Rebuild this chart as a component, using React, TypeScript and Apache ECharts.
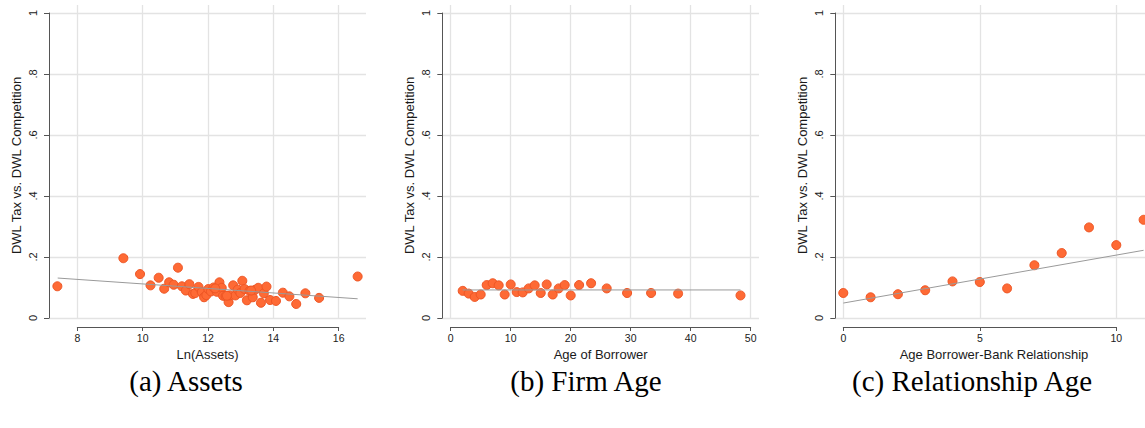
import React, { useEffect, useRef } from 'react';
import * as echarts from 'echarts';

// (a) Assets
const assetsX = [7.39, 9.41, 9.92, 10.24, 10.49, 10.66, 10.81, 10.95, 11.08, 11.20, 11.32, 11.43, 11.54, 11.61, 11.71, 11.81, 11.88, 11.95, 12.01, 12.09, 12.17, 12.27, 12.35, 12.42, 12.46, 12.54, 12.63, 12.67, 12.77, 12.84, 12.91, 12.99, 13.05, 13.12, 13.19, 13.27, 13.37, 13.45, 13.54, 13.62, 13.71, 13.79, 13.90, 14.08, 14.29, 14.49, 14.70, 14.98, 15.40, 16.58, 12.22, 12.58, 13.32];
const assetsY = [0.104, 0.196, 0.144, 0.107, 0.132, 0.096, 0.117, 0.109, 0.165, 0.104, 0.090, 0.111, 0.079, 0.082, 0.102, 0.085, 0.068, 0.075, 0.095, 0.087, 0.100, 0.086, 0.117, 0.099, 0.073, 0.072, 0.052, 0.074, 0.107, 0.074, 0.093, 0.082, 0.122, 0.095, 0.058, 0.089, 0.068, 0.093, 0.099, 0.050, 0.081, 0.103, 0.059, 0.056, 0.083, 0.071, 0.046, 0.081, 0.066, 0.136, 0.097, 0.073, 0.090];
const assetsFit = [[7.40, 0.131], [16.58, 0.063]];

// (b) Firm Age
const firmAgeX = [2, 3, 4, 5, 6, 7, 8, 9, 10, 11, 12, 13, 14, 15, 16, 17, 18, 19, 20, 21.4, 23.4, 26, 29.4, 33.4, 37.9, 48.3];
const firmAgeY = [0.089, 0.080, 0.069, 0.077, 0.108, 0.114, 0.107, 0.077, 0.110, 0.085, 0.084, 0.097, 0.107, 0.082, 0.110, 0.077, 0.097, 0.108, 0.074, 0.108, 0.114, 0.097, 0.082, 0.082, 0.080, 0.074];
const firmAgeFit = [[2, 0.092], [48.3, 0.092]];

// (c) Relationship Age
const relAgeX = [0, 1, 2, 3, 4, 5, 6, 7, 8, 9, 10, 11];
const relAgeY = [0.082, 0.068, 0.078, 0.091, 0.120, 0.118, 0.097, 0.173, 0.213, 0.297, 0.239, 0.322];
const relAgeFit = [[0, 0.049], [11, 0.222]];

const yTicks = [0, 0.2, 0.4, 0.6, 0.8, 1];
const yTitle = 'DWL Tax vs. DWL Competition';
const xTitles = ['Ln(Assets)', 'Age of Borrower', 'Age Borrower-Bank Relationship'];
const captions = ['(a) Assets', '(b) Firm Age', '(c) Relationship Age'];

const SANS = '"Liberation Sans", Arial, Helvetica, sans-serif';
const SERIF = '"Liberation Serif", "Times New Roman", serif';
const GRID_COLOR = '#e3e3e3';
const AXIS_COLOR = '#555555';
const TEXT_COLOR = '#1a1a1a';

const fmtY = (v: number) => (v === 0 ? '0' : v === 1 ? '1' : v.toFixed(1).replace('0.', '.'));

export default function App() {
  const ref = useRef<HTMLDivElement>(null);
  useEffect(() => {
    document.body.style.margin = '0';
    document.body.style.overflow = 'hidden';
    document.documentElement.style.overflow = 'hidden';
    const chart = echarts.init(ref.current!, null, { renderer: 'svg' });

    const panels = [
      { L: 49, R: 366, t0: 8, t1: 16, tp0: 77.3, tp1: 338.7, interval: 2, xs: assetsX, ys: assetsY, fit: assetsFit, capX: 186 },
      { L: 442.3, R: 759, t0: 0, t1: 50, tp0: 450.7, tp1: 750.7, interval: 10, xs: firmAgeX, ys: firmAgeY, fit: firmAgeFit, capX: 586 },
      { L: 835.3, R: 1152.7, t0: 0, t1: 10, tp0: 843.3, tp1: 1116.3, interval: 5, xs: relAgeX, ys: relAgeY, fit: relAgeFit, capX: 972 },
    ];

    const plotTop = 13;
    const plotBottom = 318;
    const gridTop = 5;

    const grid: any[] = [];
    const xAxis: any[] = [];
    const yAxis: any[] = [];
    const series: any[] = [];
    const graphic: any[] = [];

    panels.forEach((p, i) => {
      const scale = (p.tp1 - p.tp0) / (p.t1 - p.t0);
      const xMin = p.t0 - (p.tp0 - p.L) / scale;
      const xMax = p.t1 + (p.R - p.tp1) / scale;
      const gData = 2 * i;
      const gAxis = 2 * i + 1;

      grid.push({ left: p.L, width: p.R - p.L, top: plotTop, height: plotBottom - plotTop, containLabel: false });
      grid.push({ left: p.tp0, width: p.tp1 - p.tp0, top: gridTop, height: plotBottom - gridTop, containLabel: false });

      xAxis.push({
        gridIndex: gData, type: 'value', min: xMin, max: xMax,
        axisLine: { show: false }, axisTick: { show: false }, axisLabel: { show: false }, splitLine: { show: false },
        name: xTitles[i], nameLocation: 'middle', nameGap: 30,
        nameTextStyle: { fontFamily: SANS, fontSize: 13, color: TEXT_COLOR },
      });
      xAxis.push({
        gridIndex: gAxis, type: 'value', min: p.t0, max: p.t1, interval: p.interval, offset: 9,
        axisLine: { show: true, onZero: false, lineStyle: { color: AXIS_COLOR, width: 1 } },
        axisTick: { show: true, length: 4, lineStyle: { color: AXIS_COLOR, width: 1 } },
        axisLabel: { fontFamily: SANS, fontSize: 10.5, color: TEXT_COLOR, margin: 5 },
        splitLine: { show: true, lineStyle: { color: GRID_COLOR, width: 1.3 } },
      });

      yAxis.push({
        gridIndex: gData, type: 'value', min: yTicks[0], max: yTicks[yTicks.length - 1], interval: 0.2,
        axisLine: { show: true, onZero: false, lineStyle: { color: AXIS_COLOR, width: 1 } },
        axisTick: { show: true, length: 5, lineStyle: { color: AXIS_COLOR, width: 1 } },
        axisLabel: { rotate: 90, fontFamily: SANS, fontSize: 11, color: TEXT_COLOR, margin: 11, formatter: fmtY },
        splitLine: { show: true, lineStyle: { color: GRID_COLOR, width: 1.3 } },
        name: yTitle, nameLocation: 'middle', nameGap: 26,
        nameTextStyle: { fontFamily: SANS, fontSize: 13, color: TEXT_COLOR },
      });
      yAxis.push({ gridIndex: gAxis, type: 'value', min: 0, max: 1, show: false });

      series.push({
        type: 'line', xAxisIndex: gData, yAxisIndex: gData, data: p.fit, showSymbol: false, symbol: 'none',
        lineStyle: { color: '#9a9a9a', width: 1 }, z: 3, silent: true,
      });
      series.push({
        type: 'scatter', xAxisIndex: gData, yAxisIndex: gData, clip: false,
        data: p.xs.map((x, k) => [x, p.ys[k]]), symbolSize: 9,
        itemStyle: { color: '#fe6a35', borderColor: '#ee5524', borderWidth: 1, opacity: 1 }, z: 2,
      });

      graphic.push({
        type: 'text', x: p.capX, y: 381,
        style: { text: captions[i], fontFamily: SERIF, fontSize: 29, fill: '#000', textAlign: 'center', textVerticalAlign: 'middle' },
      });
    });

    chart.setOption({ animation: false, backgroundColor: '#ffffff', grid, xAxis, yAxis, series, graphic });
    return () => chart.dispose();
  }, []);
  return <div ref={ref} style={{ width: 1165, height: 428 }} />;
}
